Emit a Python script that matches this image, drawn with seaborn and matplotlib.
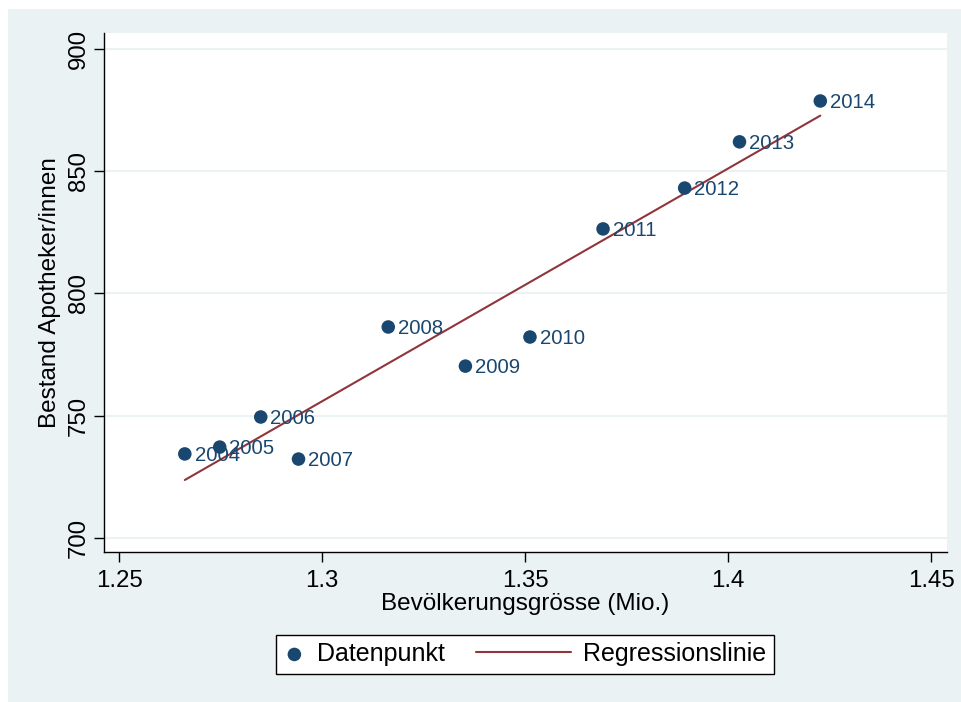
import numpy as np
import pandas as pd
import matplotlib.pyplot as plt
import seaborn as sns
from matplotlib.patches import Rectangle
from matplotlib.legend_handler import HandlerLine2D

# Daten
jahre = [2004, 2005, 2006, 2007, 2008, 2009, 2010, 2011, 2012, 2013, 2014]
bevoelkerung = [1.2662, 1.2748, 1.2849, 1.2942, 1.3163, 1.3353, 1.3512, 1.3692, 1.3893, 1.4028, 1.4227]
apotheker = [734.4, 737.2, 749.5, 732.3, 786.3, 770.3, 782.2, 826.4, 843.1, 862.0, 878.7]

x_ticks = [1.25, 1.3, 1.35, 1.4, 1.45]
x_ticklabels = ["1.25", "1.3", "1.35", "1.4", "1.45"]
y_ticks = [700, 750, 800, 850, 900]

df = pd.DataFrame({"jahr": jahre, "bev": bevoelkerung, "apo": apotheker})

navy = "#1a476f"
rot = "#90353b"
hg = "#eaf2f3"


# Legendenlinie nach links verlaengern (wie bei Stata)
class LangeLinie(HandlerLine2D):
    def create_artists(self, legend, orig_handle, xdescent, ydescent, width, height, fontsize, trans):
        extra = 3.5 * width
        return super().create_artists(legend, orig_handle, xdescent + extra, ydescent,
                                      width + extra, height, fontsize, trans)


sns.set_style("white")
plt.rcParams["font.family"] = ["Liberation Sans", "DejaVu Sans"]

fig = plt.figure(figsize=(9.61, 7.02), dpi=100)
fig.patch.set_facecolor("white")
fig.patches.append(Rectangle((8 / 961, 0), 1, 1 - 9 / 702, transform=fig.transFigure,
                             facecolor=hg, edgecolor="none", zorder=-5))

ax = fig.add_axes([104 / 961, 1 - 552 / 702, (947 - 104) / 961, (552 - 33) / 702])
ax.set_facecolor("white")

sns.regplot(x="bev", y="apo", data=df, scatter=False, ci=None, ax=ax,
            line_kws={"color": rot, "lw": 1.5, "zorder": 2})
reg_line = ax.lines[-1]
sns.scatterplot(x="bev", y="apo", data=df, color=navy, s=95, edgecolor="none",
                ax=ax, zorder=3)
punkte = ax.collections[-1]

# Jahr-Beschriftungen
for _, r in df.iterrows():
    ax.annotate(str(int(r["jahr"])), (r["bev"], r["apo"]), xytext=(7, -1),
                textcoords="offset points", ha="left", va="center",
                fontsize=14.7, color=navy, zorder=4)

ax.set_xlim(1.2463, 1.4539)
ax.set_ylim(694.3, 906.5)
ax.set_xticks(x_ticks)
ax.set_xticklabels(x_ticklabels)
ax.set_yticks(y_ticks)
ax.set_yticklabels([str(v) for v in y_ticks], rotation=90, va="center")

ax.yaxis.grid(True, color=hg, lw=1.5)
ax.set_axisbelow(True)
for s in ["top", "right"]:
    ax.spines[s].set_visible(False)
for s in ["left", "bottom"]:
    ax.spines[s].set_color("black")
    ax.spines[s].set_linewidth(1)

ax.tick_params(axis="both", direction="out", length=7.5, width=1, labelsize=17.3,
               bottom=True, left=True, colors="black")
ax.tick_params(axis="x", pad=5.5)
ax.tick_params(axis="y", pad=2.5)

ax.set_xlabel("Bevölkerungsgrösse (Mio.)", fontsize=17.5, labelpad=1, color="black")
ax.set_ylabel("Bestand Apotheker/innen", fontsize=17.5, labelpad=5, color="black")

# Legende
leg = fig.legend([punkte, reg_line], ["Datenpunkt", "Regressionslinie"],
                 loc="center", bbox_to_anchor=(525 / 961, 1 - 654 / 702), ncol=2,
                 fontsize=18, frameon=True, fancybox=False, framealpha=1,
                 handlelength=0.85, handletextpad=0.48, columnspacing=4.2,
                 borderpad=0.3, scatterpoints=1,
                 handler_map={reg_line: LangeLinie()})
leg.get_frame().set_edgecolor("black")
leg.get_frame().set_linewidth(1)
leg.get_frame().set_facecolor("white")
for t in leg.get_texts():
    t.set_color("black")

plt.savefig("out.png", dpi=100)
